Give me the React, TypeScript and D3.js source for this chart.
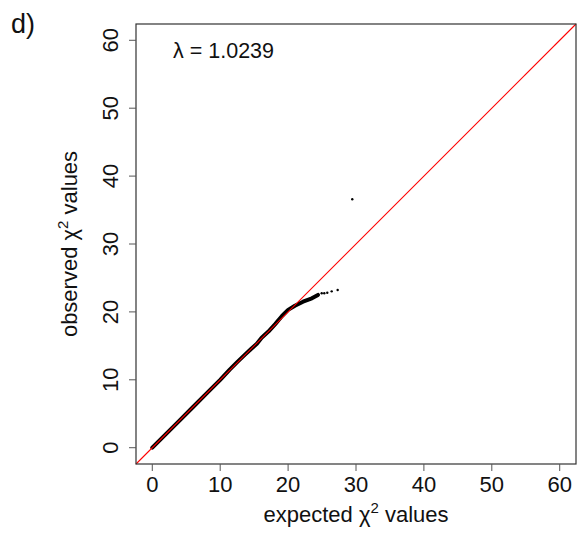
import React from "react";
import * as d3 from "d3";

const ticks = [0, 10, 20, 30, 40, 50, 60];
// dense part of the QQ band (expected, observed)
const bandExpected = [0, 2, 4, 6, 8, 10, 11.4, 12.5, 13.65, 14.5, 15.4, 16.1, 17.1, 18.1, 19.1, 20.0, 21.0, 22.2, 23.5, 24.4];
const bandObserved = [0, 2, 4, 6, 8, 10, 11.5, 12.6, 13.7, 14.5, 15.3, 16.2, 17.1, 18.2, 19.4, 20.3, 20.9, 21.5, 22.0, 22.5];
// sparse tail points
const tailExpected = [24.95, 25.33, 25.77, 26.42, 27.3, 29.45];
const tailObserved = [22.74, 22.74, 22.83, 23.03, 23.23, 36.6];
const lambdaLabel = "1.0239";

const W = 579, H = 533;
const L = 136, R = 576, T = 24, B = 464;
const FONT = "'Liberation Sans', Arial, Helvetica, sans-serif";

export default function App() {
  const x = d3.scaleLinear().domain([-2.4, 62.4]).range([L, R]);
  const y = d3.scaleLinear().domain([-2.4, 62.4]).range([B, T]);
  const band = bandExpected.map((e, i) => [e, bandObserved[i]] as [number, number]);
  const line = d3.line<[number, number]>().x(d => x(d[0])).y(d => y(d[1]));
  const tail = tailExpected.map((e, i) => [e, tailObserved[i]]);
  return (
    <svg width={W} height={H} style={{ position: "absolute", left: 0, top: 0, background: "#fff" }} fontFamily={FONT}>
      <rect x={0} y={0} width={W} height={H} fill="#fff" />
      <text x={11} y={33} fontSize={27} fill="#111">d)</text>
      {/* data */}
      <path d={line(band) || ""} fill="none" stroke="#000" strokeWidth={4} strokeLinecap="round" strokeLinejoin="round" />
      {tail.map((d, i) => (
        <circle key={i} cx={x(d[0])} cy={y(d[1])} r={1.2} fill="#000" />
      ))}
      {/* reference line */}
      <line x1={x(-2.4)} y1={y(-2.4)} x2={x(62.4)} y2={y(62.4)} stroke="#ff0000" strokeWidth={1.1} />
      {/* box */}
      <rect x={L} y={T} width={R - L} height={B - T} fill="none" stroke="#333" strokeWidth={1.2} />
      {/* x axis */}
      {ticks.map(t => (
        <g key={"x" + t}>
          <line x1={x(t)} x2={x(t)} y1={B} y2={B + 7} stroke="#555" strokeWidth={1} />
          <text x={x(t)} y={492} fontSize={22} textAnchor="middle" fill="#111">{t}</text>
        </g>
      ))}
      {/* y axis */}
      {ticks.map(t => (
        <g key={"y" + t}>
          <line x1={L - 7} x2={L} y1={y(t)} y2={y(t)} stroke="#555" strokeWidth={1} />
          <text transform={`translate(118,${y(t)}) rotate(-90)`} fontSize={22} textAnchor="middle" fill="#111">{t}</text>
        </g>
      ))}
      <text x={(L + R) / 2} y={522} fontSize={22} textAnchor="middle" fill="#111">
        expected χ<tspan dy={-9} fontSize={15}>2</tspan><tspan dy={9}> values</tspan>
      </text>
      <text transform={`translate(77,${(T + B) / 2}) rotate(-90)`} fontSize={22} textAnchor="middle" fill="#111">
        observed χ<tspan dy={-9} fontSize={15}>2</tspan><tspan dy={9}> values</tspan>
      </text>
      <text x={173} y={58} fontSize={21.5} fill="#111">λ = {lambdaLabel}</text>
    </svg>
  );
}
